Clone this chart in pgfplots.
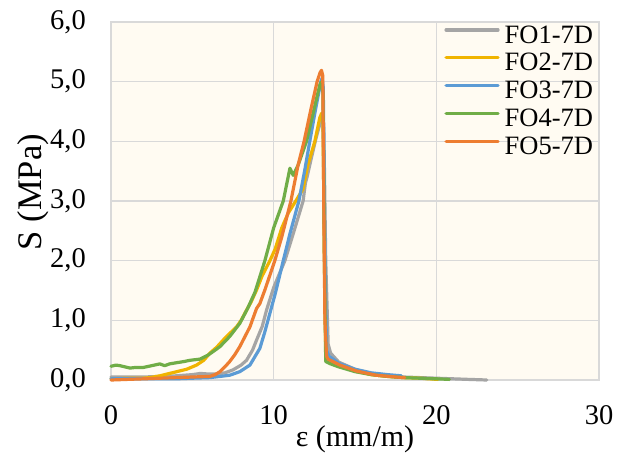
\documentclass[border=0pt]{standalone}
\usepackage{pgfplots}
\pgfplotsset{compat=1.18}
\usepackage{fontspec}
\setmainfont{Liberation Serif}

\definecolor{cgray}{HTML}{A5A5A5}
\definecolor{cgold}{HTML}{F0B400}
\definecolor{cblue}{HTML}{5B9BD5}
\definecolor{cgreen}{HTML}{70AD47}
\definecolor{corange}{HTML}{ED7D31}
\definecolor{gridc}{HTML}{D9D9D9}
\definecolor{bgc}{HTML}{FFFBF2}

\begin{document}
\begin{tikzpicture}
\useasboundingbox (-111bp,-76bp) rectangle (520bp,380bp);
\begin{axis}[
  scale only axis,
  width=488bp, height=358bp,
  xmin=0, xmax=30, ymin=0, ymax=6,
  xtick={0,10,20,30}, ytick={0,1,2,3,4,5,6},
  major tick length=0pt,
  grid=major,
  grid style={gridc, line width=1.5bp},
  axis line style={gridc, line width=1.5bp},
  axis background/.style={fill=bgc},
  /pgf/number format/assume math mode=true,
  /pgf/number format/use comma,
  yticklabel={\pgfmathprintnumber[fixed,fixed zerofill,precision=1]{\tick}},
  ticklabel style={font=\fontsize{28.5bp}{32bp}\selectfont, inner sep=0pt},
  yticklabel style={anchor=east, xshift=-25bp},
  xticklabel style={anchor=north, yshift=-25bp},
  xlabel={ε (mm/m)},
  ylabel={S (MPa)},
  label style={inner sep=0pt},
  xlabel style={font=\fontsize{30bp}{34bp}\selectfont,
    at={(axis description cs:0.5,-0.165)}, anchor=center},
  ylabel style={font=\fontsize{34.5bp}{38bp}\selectfont,
    at={(axis description cs:-0.16,0.525)}, anchor=center},
  clip=false,
  every axis plot/.append style={line width=3.2bp, line join=round, line cap=round},
  legend cell align=left,
  legend style={at={(1,1)}, anchor=north east, xshift=-6bp, yshift=-3bp,
    draw=none, fill=none, inner sep=0pt, outer sep=0pt,
    column sep=5bp, row sep=0pt,
    font=\fontsize{26.5bp}{30bp}\selectfont,
    nodes={inner sep=0pt, text height=18bp, text depth=9.9bp}},
  legend image code/.code={\draw[#1] (0bp,9bp) -- (52bp,9bp);},
]
% FO1-7D
\addplot[cgray] coordinates {
(0,0.05) (1,0.05) (2,0.05) (3,0.06) (4,0.07) (5,0.09) (5.5,0.11) (6,0.10)
(6.5,0.10) (7,0.12) (7.5,0.17) (8,0.25) (8.33,0.33) (8.7,0.5) (8.95,0.67)
(9.3,0.9) (9.56,1.17) (10,1.55) (10.69,2.0) (11.2,2.45) (11.81,3.0)
(11.95,3.3) (12.05,3.4) (12.3,3.7) (12.6,4.05) (12.85,4.3) (12.98,4.38)
(13.08,4.3) (13.2,2.0) (13.35,0.6) (13.5,0.45) (14,0.3) (15,0.18) (16,0.11)
(17,0.07) (18,0.05) (19,0.04) (20,0.03) (21,0.02) (22,0.01) (23.1,0.0)};
\addlegendentry{FO1-7D}
% FO2-7D
\addplot[cgold] coordinates {
(0,0.02) (1,0.03) (2,0.03) (2.4,0.04) (3,0.07) (3.6,0.11) (4.2,0.15)
(4.65,0.18) (5.26,0.25) (5.7,0.33) (6.08,0.45) (6.5,0.55) (6.9,0.67)
(7.3,0.78) (7.72,0.89) (8.0,1.0) (8.33,1.17) (8.6,1.3) (8.95,1.51)
(9.3,1.75) (9.77,2.0) (10.1,2.2) (10.5,2.55) (10.9,2.8) (11.36,3.0)
(11.8,3.2) (12.1,3.6) (12.53,4.0) (12.84,4.4) (12.95,4.47) (13.03,4.4)
(13.12,2.0) (13.2,0.5) (13.3,0.35) (14,0.25) (15,0.15) (16,0.09) (17,0.06)
(18,0.04) (19,0.03) (20.1,0.01)};
\addlegendentry{FO2-7D}
% FO3-7D
\addplot[cblue] coordinates {
(0,0.02) (2,0.02) (4,0.02) (5,0.03) (6.08,0.04) (6.7,0.06) (7.3,0.08)
(7.92,0.14) (8.54,0.25) (9.15,0.53) (9.45,0.8) (9.7,1.05) (10.1,1.45)
(10.59,2.0) (11.0,2.45) (11.55,3.0) (11.9,3.5) (12.22,4.0) (12.55,4.5)
(12.9,5.0) (12.98,5.06) (13.05,4.9) (13.15,2.0) (13.25,0.5) (13.4,0.4)
(14,0.28) (15,0.18) (16,0.12) (17,0.09) (17.85,0.07)};
\addlegendentry{FO3-7D}
% FO4-7D
\addplot[cgreen] coordinates {
(0,0.23) (0.3,0.25) (0.55,0.24) (1.17,0.2) (1.5,0.21) (1.98,0.21)
(2.5,0.24) (3.0,0.27) (3.3,0.24) (3.6,0.27) (4.04,0.29) (4.5,0.31)
(4.85,0.33) (5.47,0.35) (5.98,0.42) (6.4,0.5) (6.7,0.56) (7.3,0.73)
(7.92,0.95) (8.4,1.2) (8.85,1.47) (9.46,2.0) (10.0,2.55) (10.59,3.0)
(11.0,3.55) (11.2,3.43) (11.5,3.6) (12.02,4.0) (12.45,4.5) (12.84,4.95)
(12.95,5.0) (13.03,4.8) (13.12,2.0) (13.2,0.31) (13.5,0.27) (14,0.22)
(15,0.14) (16,0.09) (17,0.06) (18,0.04) (19,0.03) (20,0.02) (20.8,0.01)};
\addlegendentry{FO4-7D}
% FO5-7D
\addplot[corange] coordinates {
(0,0.0) (1,0.01) (2,0.02) (3,0.03) (4,0.04) (5,0.05) (6.08,0.06) (6.4,0.09)
(6.7,0.14) (7.0,0.22) (7.3,0.31) (7.6,0.42) (7.92,0.56) (8.54,0.89)
(8.95,1.2) (9.15,1.28) (9.46,1.51) (10.07,2.0) (10.5,2.4) (11.06,3.0)
(11.5,3.6) (11.87,4.0) (12.3,4.55) (12.67,5.0) (12.85,5.15) (12.94,5.19)
(13.02,5.1) (13.08,3.0) (13.15,1.0) (13.25,0.4) (13.35,0.35) (14.07,0.25)
(15.1,0.15) (16.3,0.08) (17.75,0.045) (18.06,0.04)};
\addlegendentry{FO5-7D}
\end{axis}
\end{tikzpicture}
\end{document}
